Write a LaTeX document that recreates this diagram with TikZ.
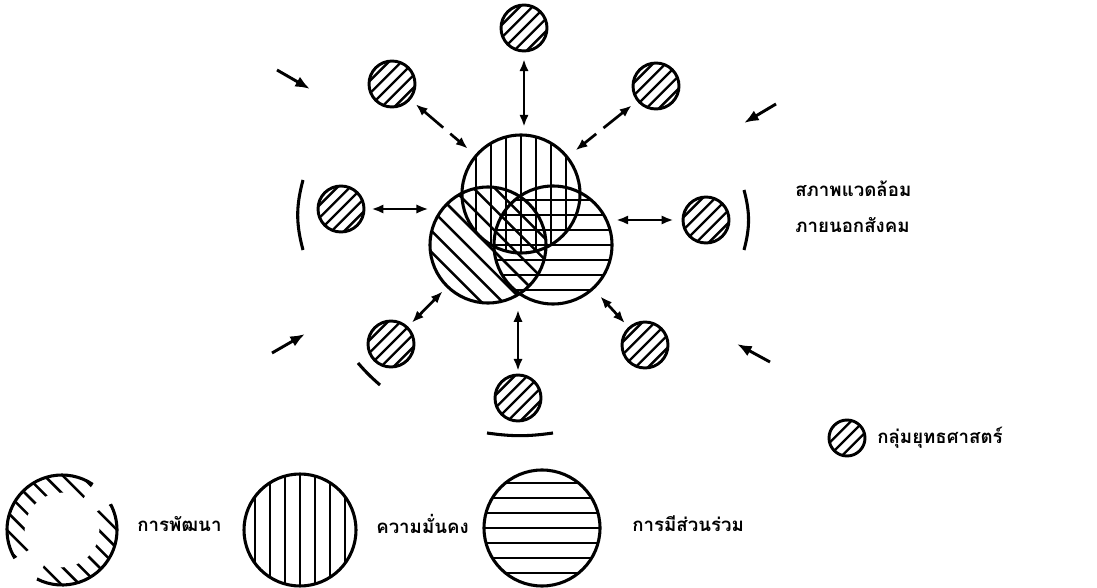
\documentclass[tikz,border=0pt]{standalone}
\usepackage{fontspec}
\newfontfamily\thaifont[Script=Thai]{Loma}
\usetikzlibrary{arrows.meta,calc}
\begin{document}
\begin{tikzpicture}[x=0.75pt,y=-0.75pt,
  outline/.style={line width=2.3pt},
  hatch/.style={line width=1.9pt},
  grp/.style={circle,draw,line width=2.2pt,minimum size=34.5pt,inner sep=0pt,
    path picture={\foreach \k in {-2,...,2}{\draw[hatch,line width=1.8pt,shift={(path picture bounding box.center)}] (\k*6.36-30,\k*6.36+30) -- (\k*6.36+30,\k*6.36-30);}}},
  vertc/.style={circle,draw,line width=2.3pt,inner sep=0pt,
    path picture={\foreach \k in {-4,...,4}{\draw[hatch,shift={(path picture bounding box.center)}] (\k*15,-80) -- (\k*15,80);}}},
  horc/.style={circle,draw,line width=2.3pt,inner sep=0pt,
    path picture={\foreach \k in {-4,...,4}{\draw[hatch,shift={(path picture bounding box.center)}] (-80,\k*15) -- (80,\k*15);}}},
  diagc/.style={circle,draw,line width=2.3pt,inner sep=0pt,
    path picture={\foreach \k in {-6,...,6}{\draw[hatch,shift={(path picture bounding box.center)}] (\k*10.6-80,-\k*10.6-80) -- (\k*10.6+80,-\k*10.6+80);}}},
  dbl/.style={{Latex[length=9pt,width=7pt]}-{Latex[length=9pt,width=7pt]},line width=2pt},
  dsh/.style={dbl,dash pattern=on 19pt off 7pt},
  sgl/.style={-{Latex[length=11pt,width=8.5pt]},line width=2.2pt},
  brk/.style={line width=2.3pt},
  lbl/.style={font=\thaifont\bfseries\fontsize{14}{16}\selectfont,inner sep=0pt,anchor=west}
]
\useasboundingbox (0,0) rectangle (1097,588);

% central circles
\node[vertc,minimum size=88.5pt] (T) at (521,194) {};
\node[diagc,minimum size=87pt] (L) at (488,245) {};
\node[horc,minimum size=88.5pt] (R) at (553,245) {};

% strategy groups
\node[grp] (g1) at (524,28) {};
\node[grp] (g2) at (392,84) {};
\node[grp] (g3) at (656,86) {};
\node[grp] (g4) at (341,209) {};
\node[grp] (g5) at (706,220) {};
\node[grp] (g6) at (391,344) {};
\node[grp] (g7) at (645,345) {};
\node[grp] (g8) at (518,398) {};

% connectors
\draw[dbl,shorten <=5pt,shorten >=5pt] (g1) -- (g1 |- T.north);
\draw[dsh,shorten <=5pt,shorten >=7pt] (g2) -- (T);
\draw[dsh,shorten <=5pt,shorten >=7pt] (g3) -- (T);
\draw[dbl,shorten <=4.5pt] (g4) -- (g4 -| L.west);
\draw[dbl,shorten <=6pt,shorten >=2pt] (g5) -- (g5 -| R.east);
\draw[dbl,shorten <=4pt,shorten >=4pt] (g6) -- (L);
\draw[dbl,shorten <=4pt,shorten >=7pt] (g7) -- (R);
\draw[dbl,shorten <=2pt,shorten >=4pt] (g8) -- (g8 |- L.south);

% outer influences
\coordinate (a1s) at (277,70);  \coordinate (a1e) at (310,89);
\coordinate (a2s) at (776,104); \coordinate (a2e) at (744,123);
\coordinate (a3s) at (272,353); \coordinate (a3e) at (305,334);
\coordinate (a4s) at (770,362); \coordinate (a4e) at (737,344);
\draw[sgl] (a1s) -- (a1e);
\draw[sgl] (a2s) -- (a2e);
\draw[sgl] (a3s) -- (a3e);
\draw[sgl] (a4s) -- (a4e);

% boundary brackets
\coordinate (b1a) at (303,180); \coordinate (b1b) at (303,250);
\coordinate (b2a) at (744,190); \coordinate (b2b) at (744,250);
\coordinate (b3a) at (358,363); \coordinate (b3b) at (380,385);
\coordinate (b4a) at (487,433); \coordinate (b4b) at (553,433);
\draw[brk] (b1a) to[bend right=15] (b1b);
\draw[brk] (b2a) to[bend left=15] (b2b);
\draw[brk] (b3a) to[bend right=4] (b3b);
\draw[brk] (b4a) to[bend right=8] (b4b);

% environment label
\node[lbl] (env1) at (795,189) {สภาพแวดล้อม};
\node[lbl] (env2) at (795,225) {ภายนอกสังคม};

% legend
\node[grp,minimum size=27pt] (lg) at (847,438) {};
\node[lbl] (lgt) at (877,438) {กลุ่มยุทธศาสตร์};

\coordinate (dev) at (62,530);
\begin{scope}
  \clip (dev) -- ($(dev)+(56:90pt)$) -- ($(dev)+(135:90pt)$) -- ($(dev)+(211:90pt)$) -- cycle
        (dev) -- ($(dev)+(243:90pt)$) -- ($(dev)+(315:90pt)$) -- ($(dev)+(388:90pt)$) -- cycle;
  \begin{scope}[even odd rule]
    \clip (dev) circle[radius=41.25pt] (dev) circle[radius=28pt];
    \foreach \k in {-7,...,7}{\draw[hatch,shift={(dev)}] (\k*9.19-80,-\k*9.19-80) -- (\k*9.19+80,-\k*9.19+80);}
  \end{scope}
\end{scope}
\draw[outline] ($(dev)+(56:41.25pt)$) arc[start angle=56,end angle=211,radius=41.25pt];
\draw[outline] ($(dev)+(243:41.25pt)$) arc[start angle=243,end angle=388,radius=41.25pt];
\node[lbl] (t1) at (137,524) {การพัฒนา};

\node[vertc,minimum size=84pt] (lv) at (300,530) {};
\node[lbl] (t2) at (376,524) {ความมั่นคง};

\node[horc,minimum size=87pt] (lh) at (542,528) {};
\node[lbl] (t3) at (632,524) {การมีส่วนร่วม};
\end{tikzpicture}
\end{document}
